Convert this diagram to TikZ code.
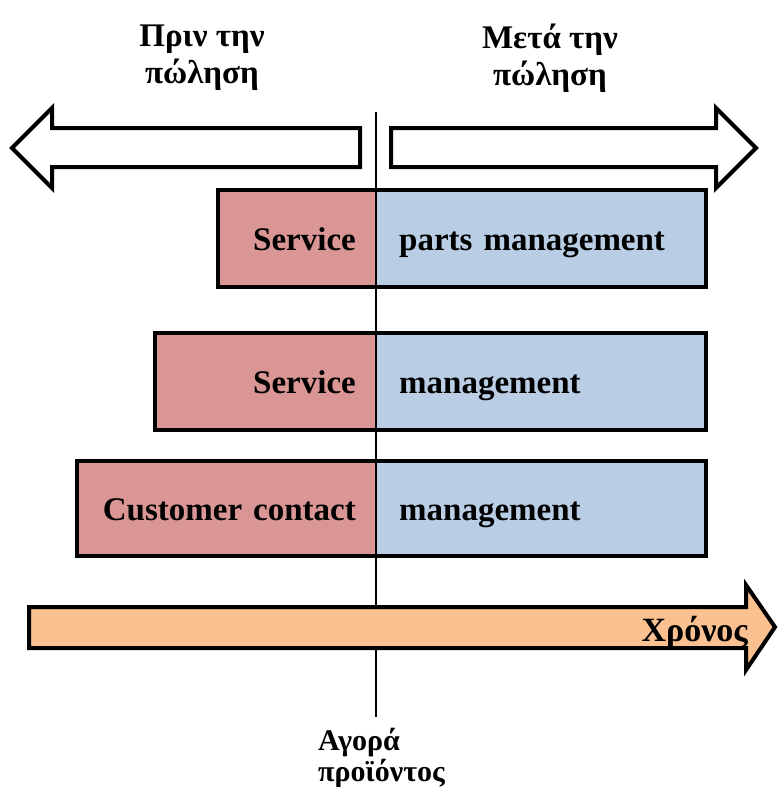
\documentclass[tikz,border=0pt]{standalone}
\usepackage{fontspec}
\setmainfont{Liberation Serif}
\definecolor{redc}{HTML}{D99694}
\definecolor{bluec}{HTML}{B9CDE5}
\definecolor{orangec}{HTML}{FAC090}
\begin{document}
\begin{tikzpicture}[x=1pt,y=-1pt,
  boxtxt/.style={font=\fontsize{33}{37}\selectfont\bfseries, minimum height=97pt, inner ysep=0pt, draw=none, text height=30pt, text depth=7pt},
  redpart/.style={boxtxt, fill=redc, align=right, inner xsep=20pt, anchor=east},
  bluepart/.style={boxtxt, fill=bluec, align=left, inner xsep=23pt, anchor=west},
  outline/.style={line width=4pt, draw=black},
  bigarrow/.style={line width=4pt, draw=black, line join=miter},
  title/.style={font=\fontsize{33}{37}\selectfont\bfseries, align=center},
  small/.style={font=\fontsize{30}{31}\selectfont\bfseries}
]
\useasboundingbox (0,0) rectangle (779,787);
% titles
\node[title] (before) at (202,58) {Πριν την\\πώληση};
\node[title] (after) at (550,58) {Μετά την\\πώληση};
% white arrows
\draw[bigarrow, fill=white] (360,128) -- (52,128) -- (52,108) -- (12,148) -- (52,188) -- (52,167) -- (360,167) -- cycle;
\draw[bigarrow, fill=white] (391,128) -- (716,128) -- (716,108) -- (756,148) -- (716,188) -- (716,167) -- (391,167) -- cycle;
% boxes
\node[redpart, text width=118pt] (r1) at (376,238.5) {Service};
\node[bluepart, text width=284pt] (b1) at (376,238.5) {parts management};
\draw[outline] (r1.north west) rectangle (b1.south east);
\node[redpart, text width=181pt] (r2) at (376,381.5) {Service};
\node[bluepart, text width=284pt] (b2) at (376,381.5) {management};
\draw[outline] (r2.north west) rectangle (b2.south east);
\node[redpart, text width=259pt, minimum height=95pt] (r3) at (376,508.5) {Customer contact};
\node[bluepart, text width=284pt, minimum height=95pt] (b3) at (376,508.5) {management};
\draw[outline] (r3.north west) rectangle (b3.south east);
% vertical line
\coordinate (vtop) at (376,112);
\coordinate (vbot) at (376,717);
\draw[line width=2.5pt] (vtop) -- (vbot);
% time arrow
\draw[bigarrow, fill=orangec] (29,607) -- (746,607) -- (746,585) -- (775,627) -- (746,670) -- (746,648) -- (29,648) -- cycle;
\node[font=\fontsize{34}{37}\selectfont\bfseries, anchor=base east, inner sep=0pt] (time) at (748,641) {Χρόνος};
% purchase label
\node[small, align=left, anchor=west, inner sep=0pt] (buy) at (318,758) {Αγορά\\προϊόντος};
\end{tikzpicture}
\end{document}
